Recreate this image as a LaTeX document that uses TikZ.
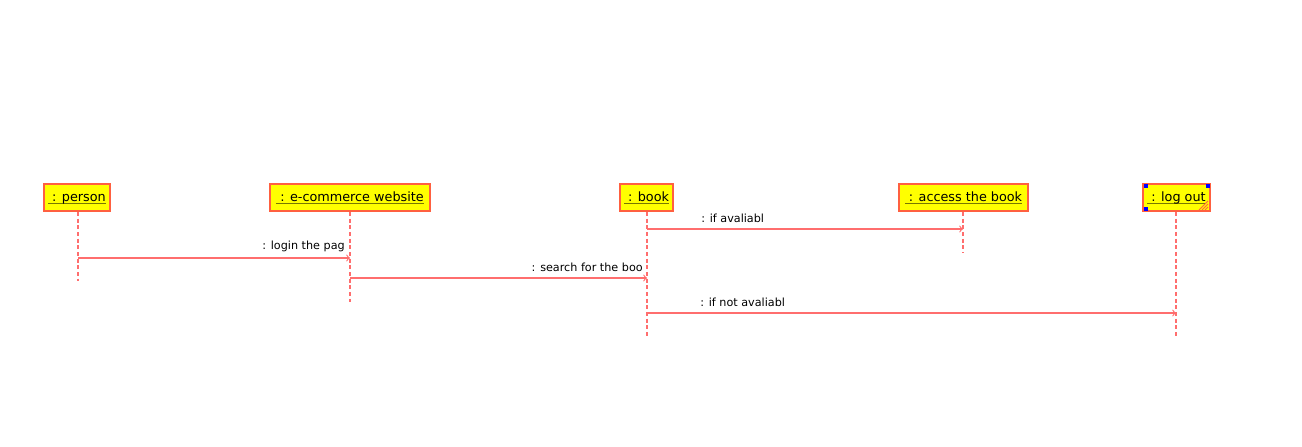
\documentclass[tikz,border=0pt]{standalone}
\usepackage{fontspec}
\setmainfont{DejaVu Sans}
\usepackage{tikz}

\definecolor{objfill}{RGB}{255,255,0}
\definecolor{objline}{RGB}{255,96,64}
\definecolor{msgline}{RGB}{255,110,110}
\definecolor{handle}{RGB}{0,0,255}
\definecolor{underline}{RGB}{120,120,0}

% underlined object name, rule just below the baseline
\newcommand{\objname}[1]{\setbox0\hbox{#1}\rlap{\color{underline}\rule[-2pt]{\wd0}{0.8pt}}\box0}

\tikzset{
	object/.style={rectangle, draw=objline, fill=objfill, line width=1.5pt,
		minimum height=20.25pt, inner xsep=3pt, text height=7.5pt, text depth=2pt,
		font=\fontsize{9.6pt}{11pt}\selectfont},
	lifeline/.style={draw=msgline, dashed, dash pattern=on 3pt off 2pt, line width=0.9pt},
	msg/.style={draw=msgline, line width=0.9pt, ->},
	msglabel/.style={inner sep=0pt, font=\fontsize{8.4pt}{10pt}\selectfont},
	selhandle/.style={fill=handle, minimum size=3pt, inner sep=0pt}
}

\begin{document}
\begin{tikzpicture}[x=0.75pt, y=-0.75pt]

		\useasboundingbox (0,0) rectangle (1302,446);

		% Objects

		\node[object, minimum width=49.5pt] 
		(person) at (77,197.5) {\objname{\ : person}};

		\node[object, minimum width=120pt] 
		(website) at (350,197.5) {\objname{\ : e-commerce website}};

		\node[object, minimum width=39.75pt] 
		(book) at (646.5,197.5) {\objname{\ : book}};

		\node[object, minimum width=96.75pt] 
		(access) at (963.5,197.5) {\objname{\ : access the book}};

		\node[object, minimum width=48.75pt] 
		(logout) at (1176.5,197.5) {\objname{\ : log out}};

		% Lifelines

		\coordinate (personEnd) at (78,281);
		\coordinate (websiteEnd) at (350,302);
		\coordinate (bookEnd) at (647,337);
		\coordinate (accessEnd) at (963,253);
		\coordinate (logoutEnd) at (1176,337);

		\draw[lifeline] (person.south -| personEnd) -- (personEnd);

		\draw[lifeline] (website.south -| websiteEnd) -- (websiteEnd);

		\draw[lifeline] (book.south -| bookEnd) -- (bookEnd);

		\draw[lifeline] (access.south -| accessEnd) -- (accessEnd);

		\draw[lifeline] (logout.south -| logoutEnd) -- (logoutEnd);

		% Messages

		\coordinate (loginStart) at (78,258);
		\coordinate (loginEnd) at (350,258);
		\coordinate (searchStart) at (350,278);
		\coordinate (searchEnd) at (647,278);
		\coordinate (availStart) at (647,229);
		\coordinate (availEnd) at (963,229);
		\coordinate (notAvailStart) at (647,313);
		\coordinate (notAvailEnd) at (1176,313);

		\draw[msg] (loginStart) -- (loginEnd);
		\node[msglabel, anchor=south east] (loginLabel) at (345,252) {: login the pag};

		\draw[msg] (searchStart) -- (searchEnd);
		\node[msglabel, anchor=south east] (searchLabel) at (643,272) {: search for the boo};

		\draw[msg] (availStart) -- (availEnd);
		\node[msglabel, anchor=south west] (availLabel) at (701,223) {: if avaliabl};

		\draw[msg] (notAvailStart) -- (notAvailEnd);
		\node[msglabel, anchor=south west] (notAvailLabel) at (700,307) {: if not avaliabl};

		% Selection marks

		\node[selhandle] (handleA) at (1145.5,185.5) {};
		\node[selhandle] (handleB) at (1207.5,185.5) {};
		\node[selhandle] (handleC) at (1145.5,209) {};

		\draw[objline, line width=0.6pt] (1199,210) -- (1208,201)
			(1202,210) -- (1208,204) (1205,210) -- (1208,207);

	\end{tikzpicture}
\end{document}
